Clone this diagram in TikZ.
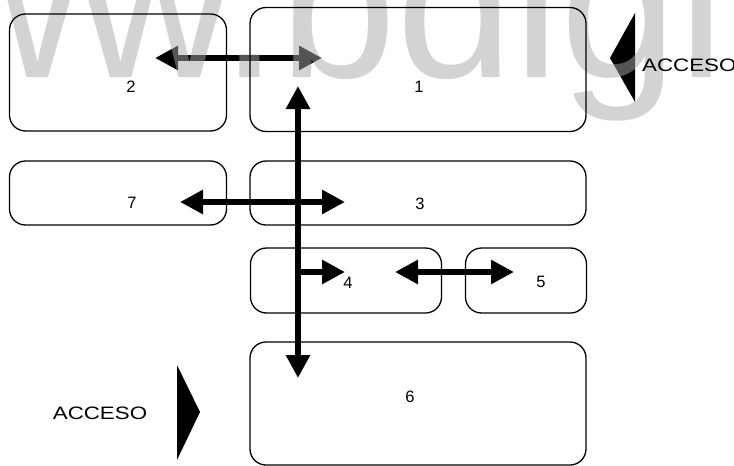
\documentclass[tikz,border=0pt]{standalone}
\usepackage{fontspec}
\setmainfont{Liberation Sans}
\newfontfamily\accesofont[FakeStretch=1.24]{Liberation Sans}
\usetikzlibrary{arrows.meta}
\definecolor{wmgray}{RGB}{168,168,168}
\tikzset{
  area/.style = {draw, line width=1.3pt, rounded corners=16pt, inner sep=0pt},
  num/.style = {font=\fontsize{16.5}{16.5}\selectfont, inner sep=0pt},
  acceso/.style = {font=\accesofont\fontsize{18}{18}\selectfont, inner sep=0pt},
  wm/.style = {font=\fontsize{211}{211}\selectfont, text=wmgray, text opacity=0.5, inner sep=0pt}
}
\tikzset{
  twoway/.style = {line width=6pt, {Triangle[length=23pt,width=23pt]}-{Triangle[length=23pt,width=23pt]}},
  oneway/.style = {line width=6pt, -{Triangle[length=23pt,width=23pt]}}
}

\begin{document}
\begin{tikzpicture}[x=1pt,y=-1pt]
  \useasboundingbox (0,0) rectangle (734,466);
  % arrow ends
  \coordinate (e2) at (155,58);
  \coordinate (e1) at (322,58);
  \coordinate (etop) at (298,86);
  \coordinate (ebot) at (298,378);
  \coordinate (e7) at (180,202);
  \coordinate (e3) at (345,202);
  \coordinate (efork) at (298,272);
  \coordinate (e4) at (345,272);
  \coordinate (e4b) at (395,272);
  \coordinate (e5) at (514,272);
  % arrows
  \draw[twoway] (e2) -- (e1);
  \draw[twoway] (etop) -- (ebot);
  \draw[twoway] (e7) -- (e3);
  \draw[oneway] (efork) -- (e4);
  \draw[twoway] (e4b) -- (e5);
  % entrances
  \fill (610,58) -- (635,13) -- (635,102) -- cycle;
  \fill (177,365) -- (200,412) -- (177,460) -- cycle;
  % watermark
  \begin{scope}
    \clip (0,0) rectangle (734,466);
    \node[wm, anchor=base west] (wmark) at (-225,77) {www.bdigi};
  \end{scope}
  % boxes
  \node[area, minimum width=217pt, minimum height=117pt] (area2) at (118,72.5) {};
  \node[area, minimum width=336pt, minimum height=124pt] (area1) at (418,69.5) {};
  \node[area, minimum width=217pt, minimum height=64pt] (area7) at (118,193) {};
  \node[area, minimum width=336pt, minimum height=64pt] (area3) at (418,193) {};
  \node[area, minimum width=191pt, minimum height=65pt] (area4) at (346,280.5) {};
  \node[area, minimum width=121pt, minimum height=65pt] (area5) at (526,280.5) {};
  \node[area, minimum width=336pt, minimum height=123pt] (area6) at (418,403.5) {};
  % numbers
  \node[num] (num1) at (419,87) {1};
  \node[num] (num2) at (131,87) {2};
  \node[num] (num3) at (420,204) {3};
  \node[num] (num4) at (348,283) {4};
  \node[num] (num5) at (541,282) {5};
  \node[num] (num6) at (410,397) {6};
  \node[num] (num7) at (132,203) {7};
  % access labels
  \node[acceso, anchor=west] (acc1) at (642,65) {ACCESO};
  \node[acceso] (acc2) at (100,413.5) {ACCESO};
\end{tikzpicture}
\end{document}
